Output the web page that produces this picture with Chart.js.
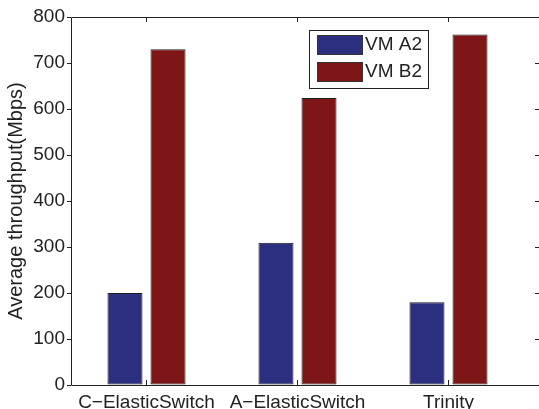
<!DOCTYPE html>
<html>
<head>
<meta charset="utf-8">
<script src="https://cdn.jsdelivr.net/npm/chart.js@4"></script>
<style>
  html, body { margin: 0; padding: 0; background: #fff; overflow: hidden; }
  #wrap { width: 545px; height: 420px; }
</style>
</head>
<body>
<div id="wrap"><canvas id="myChart" width="545" height="420"></canvas></div>
<script>
// -------- Data --------
const categories = ['C\u2212ElasticSwitch', 'A\u2212ElasticSwitch', 'Trinity'];
const vmA2 = [200, 309, 180];
const vmB2 = [730, 624, 762];
const yTicks = [0, 100, 200, 300, 400, 500, 600, 700, 800];

const FONT = "'Liberation Sans', Arial, Helvetica, sans-serif";
const INK = '#222222';

// frame + inward ticks (top/bottom/right), like the matlab box
const framePlugin = {
  id: 'frame',
  afterDraw(chart) {
    const { ctx, chartArea: a, scales } = chart;
    ctx.save();
    ctx.strokeStyle = INK;
    ctx.lineWidth = 1;
    ctx.beginPath();
    ctx.rect(Math.round(a.left) + 0.5, Math.round(a.top) + 0.5,
             Math.round(a.right - a.left), Math.round(a.bottom - a.top));
    ctx.stroke();
    ctx.beginPath();
    scales.x.ticks.forEach(t => {
      const x = Math.round(scales.x.getPixelForValue(t.value)) + 0.5;
      ctx.moveTo(x, a.bottom); ctx.lineTo(x, a.bottom - 5);
      ctx.moveTo(x, a.top); ctx.lineTo(x, a.top + 5);
    });
    scales.y.ticks.forEach(t => {
      const y = Math.round(scales.y.getPixelForValue(t.value)) + 0.5;
      ctx.moveTo(a.right, y); ctx.lineTo(a.right - 5, y);
    });
    ctx.stroke();
    ctx.restore();
  }
};

// legend box inside the plot (top right)
const boxLegend = {
  id: 'boxLegend',
  afterDraw(chart) {
    const { ctx } = chart;
    const x0 = 309, y0 = 30, w = 119, h = 58;
    ctx.save();
    ctx.fillStyle = '#fff';
    ctx.fillRect(x0, y0, w, h);
    ctx.strokeStyle = INK;
    ctx.lineWidth = 1;
    ctx.strokeRect(x0 + 0.5, y0 + 0.5, w, h);
    ctx.font = '19px ' + FONT;
    ctx.textBaseline = 'middle';
    chart.data.datasets.forEach((ds, i) => {
      const sy = y0 + 5 + i * 27;
      ctx.fillStyle = ds.backgroundColor;
      ctx.fillRect(x0 + 8, sy, 45, 19);
      ctx.strokeStyle = '#333';
      ctx.strokeRect(x0 + 8.5, sy + 0.5, 45, 19);
      ctx.fillStyle = INK;
      ctx.fillText(ds.label, x0 + 56, sy + 10);
    });
    ctx.restore();
  }
};

const toPoints = vals => vals.map((v, i) => ({ x: i + 1, y: v }));

const ctx = document.getElementById('myChart').getContext('2d');

new Chart(ctx, {
  type: 'bar',
  data: {
    datasets: [
      {
        label: 'VM A2',
        data: toPoints(vmA2),
        backgroundColor: '#2c2e80',
        borderColor: '#1e1e1e',
        borderWidth: 1,
        borderSkipped: false
      },
      {
        label: 'VM B2',
        data: toPoints(vmB2),
        backgroundColor: '#7e1517',
        borderColor: '#1e1e1e',
        borderWidth: 1,
        borderSkipped: false
      }
    ]
  },
  options: {
    responsive: false,
    animation: false,
    devicePixelRatio: 1,
    layout: { padding: { left: 0, right: 5, top: 17, bottom: 0 } },
    categoryPercentage: 0.57,
    barPercentage: 0.814,
    plugins: {
      legend: { display: false },
      tooltip: { enabled: false }
    },
    scales: {
      x: {
        type: 'linear',
        offset: false,
        min: 0.5,
        max: 3.606,
        afterBuildTicks: s => { s.ticks = categories.map((c, i) => ({ value: i + 1 })); },
        afterFit: s => { s.height = 35; },
        grid: { display: false, offset: false, drawTicks: false, tickLength: 0 },
        border: { display: false },
        ticks: {
          autoSkip: false,
          maxRotation: 0,
          padding: 6,
          color: INK,
          font: { family: FONT, size: 19 },
          callback: v => categories[v - 1] ?? ''
        }
      },
      y: {
        min: 0,
        max: 800,
        afterBuildTicks: s => { s.ticks = yTicks.map(v => ({ value: v })); },
        afterFit: s => { s.width = 71; },
        grid: { drawOnChartArea: false, drawTicks: true, tickLength: 4, color: INK },
        border: { display: false },
        ticks: {
          padding: 2,
          color: INK,
          font: { family: FONT, size: 19 }
        },
        title: {
          display: true,
          text: 'Average throughput(Mbps)',
          color: INK,
          padding: { top: 4, bottom: 0 },
          font: { family: FONT, size: 20 }
        }
      }
    }
  },
  plugins: [framePlugin, boxLegend]
});
</script>
</body>
</html>
